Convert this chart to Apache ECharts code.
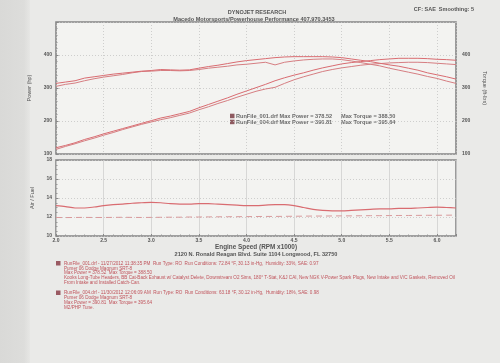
<!DOCTYPE html>
<html>
<head>
<meta charset="utf-8">
<script src="https://cdn.jsdelivr.net/npm/echarts@6/dist/echarts.min.js"></script>
<style>
html,body{margin:0;padding:0;background:#e8e8e6;}
#c{width:500px;height:363px;}
</style>
</head>
<body>
<div id="c"></div>
<script>
// ---- data (read from the dyno sheet) ----
const rpm = [2.0,2.1,2.2,2.3,2.4,2.5,2.6,2.7,2.8,2.9,3.0,3.1,3.2,3.3,3.4,3.5,3.6,3.7,3.8,3.9,4.0,4.1,4.2,4.3,4.4,4.5,4.6,4.7,4.8,4.9,5.0,5.1,5.2,5.3,5.4,5.5,5.6,5.7,5.8,5.9,6.0,6.1,6.2];
const powerRun001 = [114,123,131,140,148,157,165,174,182,190,197,204,210,217,224,234,243,253,262,272,281,290,297,302,314,325,334,342,350,356,361,365,369,372,374,376,377,378,378,377,375,373,371];
const powerRun004 = [119,126,134,144,152,161,169,177,185,193,201,209,215,222,229,240,250,260,270,281,291,301,311,322,331,339,346,354,361,367,373,377,380,383,386,388,390,390,390,389,387,386,384];
const torqueRun001 = [305,311,315,322,328,333,337,341,346,350,351,353,353,352,353,356,360,363,366,370,372,375,378,370,378,382,385,387,388,388,386,382,377,372,367,360,354,348,342,335,329,321,314];
const torqueRun004 = [314,318,322,330,334,338,342,345,348,351,353,356,355,354,355,360,365,369,374,379,383,386,389,392,394,395,395,395,395,394,392,388,384,380,375,370,366,360,354,346,340,334,327];
const afrRun001 = [13.2,13.1,12.95,12.95,13.05,13.2,13.3,13.35,13.45,13.5,13.55,13.5,13.4,13.35,13.35,13.4,13.4,13.35,13.3,13.25,13.2,13.2,13.25,13.3,13.3,13.2,13.0,12.8,12.7,12.65,12.65,12.7,12.75,12.8,12.85,12.85,12.9,12.9,12.95,13.0,13.05,13.0,12.95];
const afrRun004 = [11.95,11.94,11.95,11.96,11.95,11.95,11.96,11.97,11.96,11.95,11.96,11.97,11.98,11.98,12.0,12.0,12.01,12.02,12.03,12.03,12.04,12.05,12.06,12.06,12.07,12.08,12.09,12.1,12.1,12.11,12.12,12.12,12.13,12.14,12.14,12.15,12.16,12.16,12.17,12.18,12.18,12.19,12.2];

const runFiles = ['RunFile_001.drf','RunFile_004.drf'];
const maxPower = ['378.52','390.81'];
const maxTorque = ['388.50','395.64'];
const runDates = ['11/27/2012 11:38:35 PM','11/30/2012 12:06:09 AM'];
const runConditions = ['72.84 °F, 30.13 in-Hg,  Humidity: 33%, SAE: 0.97','63.18 °F, 30.12 in-Hg,  Humidity: 18%, SAE: 0.98'];
const runNotes = [
  ['Kooks Long-Tube Headers, BB Cat-Back Exhaust w/ Catalyst Delete, Downstream O2 Sims, 180° T-Stat, K&J CAI, New NGK V-Power Spark Plugs, New Intake and V/C Gaskets, Removed Oil','From Intake and Installed Catch-Can.'],
  ['M2/PHP Tune.']
];
const vehicle = 'Pumer 06 Dodge Magnum SRT-8';
const yPowerTicks = [100,200,300,400];
const yAfrTicks = [10,12,14,16,18];

const pairs = (ys) => rpm.map((x,i)=>[x, ys[i]]);
const c1 = '#d67e82', c2 = '#d96c71';
const noteColor = '#c0545c';
const FONT = 'Liberation Sans, Arial, sans-serif';

const chart = echarts.init(document.getElementById('c'), null, {renderer:'canvas'});

const gridBase = {show:true, backgroundColor:'#f3f3f1', borderColor:'#858585', borderWidth:1.6, left:56, right:44};
const lblStyle = {fontSize:5, color:'#555', fontWeight:'bold', fontFamily:FONT};

function noteBlock(i, y0){
  const lines = [
    runFiles[i] + ' - ' + runDates[i] + '  Run Type: RO  Run Conditions: ' + runConditions[i],
    vehicle,
    'Max Power = ' + maxPower[i] + '  Max Torque = ' + maxTorque[i]
  ].concat(runNotes[i]);
  const els = [{type:'rect', shape:{x:56, y:y0-2.5, width:4.5, height:4.5}, style:{fill:'#9a5a62'}}];
  lines.forEach((t,k)=>{
    els.push({type:'text', x:64, y:y0 + k*4.8, style:{text:t, fill:noteColor, font:'4.6px '+FONT, textVerticalAlign:'middle'}});
  });
  return els;
}

const graphics = [
  {type:'rect', shape:{x:0,y:0,width:30,height:363}, style:{fill:new echarts.graphic.LinearGradient(0,0,1,0,[{offset:0,color:'#d9d9d7'},{offset:0.8,color:'#dddddb'},{offset:1,color:'#e6e6e4'}])}, z:-10},
  {type:'text', x:257, y:12, style:{text:'DYNOJET RESEARCH', fill:'#555', font:'bold 5.5px '+FONT, textAlign:'center', textVerticalAlign:'middle'}},
  {type:'text', x:254, y:19.5, style:{text:'Macedo Motorsports/Powerhouse Performance 407.970.3453', fill:'#555', font:'bold 5.6px '+FONT, textAlign:'center', textVerticalAlign:'middle'}},
  {type:'text', x:474, y:9, style:{text:'CF: SAE  Smoothing: 5', fill:'#555', font:'bold 5.5px '+FONT, textAlign:'right', textVerticalAlign:'middle'}},
  {type:'text', x:256, y:254, style:{text:'2120 N. Ronald Reagan Blvd. Suite 1104 Longwood, FL 32750', fill:'#555', font:'bold 5.6px '+FONT, textAlign:'center', textVerticalAlign:'middle'}}
];
runFiles.forEach((f,i)=>{
  const y = 116 + i*6;
  graphics.push({type:'rect', shape:{x:230, y:y-2.3, width:4.5, height:4.5}, style:{fill:'#8e5a60'}});
  graphics.push({type:'text', x:236, y:y, style:{text:f + ' Max Power = ' + maxPower[i], fill:'#6a6a6a', font:'bold 5.6px '+FONT, textVerticalAlign:'middle'}});
  graphics.push({type:'text', x:341, y:y, style:{text:'Max Torque = ' + maxTorque[i], fill:'#6a6a6a', font:'bold 5.6px '+FONT, textVerticalAlign:'middle'}});
});
noteBlock(0, 263.5).forEach(e=>graphics.push(e));
noteBlock(1, 293).forEach(e=>graphics.push(e));

const option = {
  backgroundColor:'#eaeae8',
  animation:false,
  grid:[
    Object.assign({}, gridBase, {top:22, height:132}),
    Object.assign({}, gridBase, {top:160, height:76})
  ],
  xAxis:[
    {type:'value', gridIndex:0, min:2, max:6.2, interval:0.5,
     axisLine:{show:false}, axisTick:{show:false}, axisLabel:{show:false},
     splitLine:{show:true, lineStyle:{color:'#c4c4c4', type:[1,2], width:0.8}}},
    {type:'value', gridIndex:1, min:2, max:6.2, interval:0.5,
     name:'Engine Speed (RPM x1000)', nameLocation:'middle', nameGap:7,
     nameTextStyle:{fontSize:6.4, fontWeight:'bold', color:'#555', fontFamily:FONT},
     axisLine:{show:false},
     axisTick:{show:true, inside:true, length:2, lineStyle:{color:'#888'}},
     minorTick:{show:true, splitNumber:5, length:1.5, lineStyle:{color:'#999'}},
     axisLabel:Object.assign({}, lblStyle, {margin:2, showMaxLabel:false, formatter:(v)=>v.toFixed(1)}),
     splitLine:{show:true, lineStyle:{color:'#cfcfcf', width:0.8}}}
  ],
  yAxis:[
    {type:'value', gridIndex:0, min:100, max:500, interval:100, position:'left',
     name:'Power (hp)', nameLocation:'middle', nameGap:17,
     nameTextStyle:{fontSize:5.5, color:'#555', fontFamily:FONT},
     axisLine:{show:false},
     axisTick:{show:true, inside:true, length:2.5, lineStyle:{color:'#888'}},
     minorTick:{show:true, splitNumber:5, length:1.5, lineStyle:{color:'#999'}},
     axisLabel:Object.assign({}, lblStyle, {margin:4, showMaxLabel:false, formatter:(v)=> yPowerTicks.indexOf(v)>=0 ? String(v) : ''}),
     splitLine:{show:true, lineStyle:{color:'#c4c4c4', type:[1,2], width:0.8}}},
    {type:'value', gridIndex:0, min:100, max:500, interval:100, position:'right',
     name:'Torque (ft-lbs)', nameLocation:'middle', nameGap:19, nameRotate:-90,
     nameTextStyle:{fontSize:5.5, color:'#555', fontFamily:FONT},
     axisLine:{show:false}, axisTick:{show:false},
     axisLabel:Object.assign({}, lblStyle, {margin:6, showMaxLabel:false, formatter:(v)=> yPowerTicks.indexOf(v)>=0 ? String(v) : ''}),
     splitLine:{show:false}},
    {type:'value', gridIndex:1, min:10, max:18, interval:2,
     name:'Air / Fuel', nameLocation:'middle', nameGap:15,
     nameTextStyle:{fontSize:5.5, color:'#555', fontFamily:FONT},
     axisLine:{show:false},
     axisTick:{show:true, inside:true, length:2.5, lineStyle:{color:'#888'}},
     minorTick:{show:true, splitNumber:4, length:1.5, lineStyle:{color:'#999'}},
     axisLabel:Object.assign({}, lblStyle, {margin:4, formatter:(v)=> yAfrTicks.indexOf(v)>=0 ? String(v) : ''}),
     splitLine:{show:true, lineStyle:{color:'#c4c4c4', type:[1,2], width:0.8}}}
  ],
  series:[
    {name:runFiles[0]+' Power', type:'line', xAxisIndex:0, yAxisIndex:0, data:pairs(powerRun001), showSymbol:false, lineStyle:{color:c1, width:1}},
    {name:runFiles[1]+' Power', type:'line', xAxisIndex:0, yAxisIndex:0, data:pairs(powerRun004), showSymbol:false, lineStyle:{color:c2, width:1}},
    {name:runFiles[0]+' Torque', type:'line', xAxisIndex:0, yAxisIndex:1, data:pairs(torqueRun001), showSymbol:false, lineStyle:{color:c1, width:1}},
    {name:runFiles[1]+' Torque', type:'line', xAxisIndex:0, yAxisIndex:1, data:pairs(torqueRun004), showSymbol:false, lineStyle:{color:c2, width:1}},
    {name:runFiles[0]+' AFR', type:'line', xAxisIndex:1, yAxisIndex:2, data:pairs(afrRun001), showSymbol:false, smooth:0.3, lineStyle:{color:c2, width:1.2}},
    {name:runFiles[1]+' AFR', type:'line', xAxisIndex:1, yAxisIndex:2, data:pairs(afrRun004), showSymbol:false, lineStyle:{color:'#d99a9c', width:1, type:[6,4]}}
  ],
  graphic:graphics
};
chart.setOption(option);
</script>
</body>
</html>
